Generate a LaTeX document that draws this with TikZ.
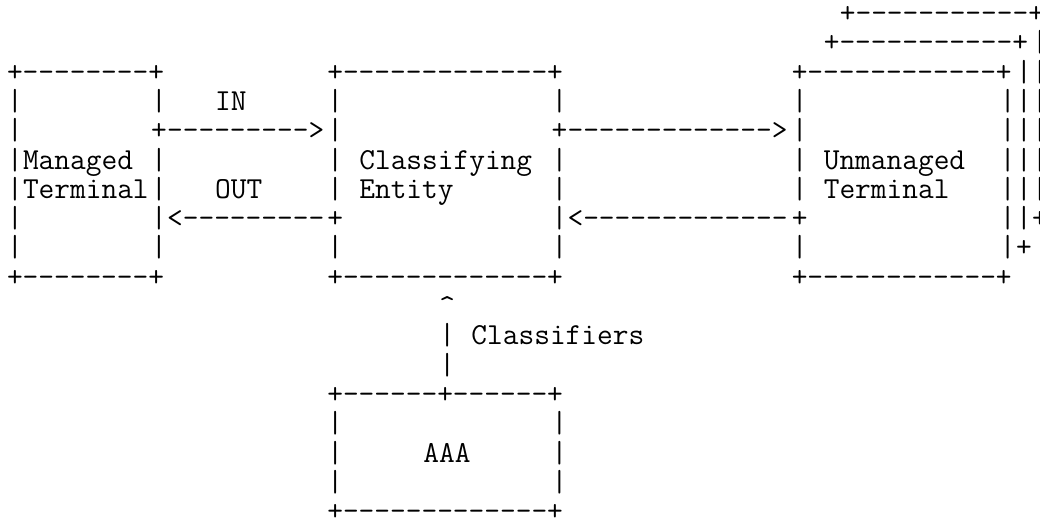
\documentclass[tikz,border=0pt]{standalone}
\usepackage{fontspec}
\usepackage{tikz}

\begin{document}
\begin{tikzpicture}[x=8.008pt,y=-14.65pt,
  ascii/.style={font=\ttfamily\fontsize{15.25pt}{14.65pt}\selectfont,anchor=base west,inner sep=0pt,outer sep=0pt}]
  \useasboundingbox (0pt,0pt) rectangle (520pt,-260pt);
  \begin{scope}[shift={(3.5pt,-11.25pt)}]
  % copies stacked behind the unmanaged terminal
  \node[ascii] (back2) at (52,0) {+-----------+};
  \node[ascii] (back1) at (51,1) {+-----------+};
  \foreach \c/\rfrom/\rto in {63/2/8,64/1/7}
    \foreach \r in {\rfrom,...,\rto}
      \node[ascii] (k\c-\r) at (\c,\r) {\ifnum\r=\rto +\else|\fi};
  \foreach \r/\n in {2/top,9/bot} {
    \node[ascii] (m\n) at (0,\r) {+--------+};
    \node[ascii] (c\n) at (20,\r) {+-------------+};
    \node[ascii] (u\n) at (49,\r) {+------------+};
  }
  % box sides, + where a line leaves the box
  \foreach \c/\j in {0/0,9/4,20/7,34/4,49/7,62/0}
    \foreach \r in {3,...,8}
      \node[ascii] (s\c-\r) at (\c,\r) {\ifnum\r=\j +\else|\fi};
  \node[ascii] (inarrow) at (10,4) {--------->};
  \node[ascii] (outarrow) at (10,7) {<---------};
  \node[ascii] (toarrow) at (35,4) {------------->};
  \node[ascii] (fromarrow) at (35,7) {<-------------};
  \node[ascii] (in) at (13,3) {IN};
  \node[ascii] (out) at (13,6) {OUT};
  \node[ascii] (managed) at (1,5) {Managed};
  \node[ascii] (mterm) at (1,6) {Terminal};
  \node[ascii] (classifying) at (22,5) {Classifying};
  \node[ascii] (entity) at (22,6) {Entity};
  \node[ascii] (unmanaged) at (51,5) {Unmanaged};
  \node[ascii] (uterm) at (51,6) {Terminal};
  % classifiers from AAA
  \node[ascii] (caret) at (27,10) {\textasciicircum};
  \foreach \r in {11,12}
    \node[ascii] (v\r) at (27,\r) {|};
  \node[ascii] (classifiers) at (29,11) {Classifiers};
  \node[ascii] (atop) at (20,13) {+------+------+};
  \foreach \c in {20,34}
    \foreach \r in {14,15,16}
      \node[ascii] (a\c-\r) at (\c,\r) {|};
  \node[ascii] (aaa) at (26,15) {AAA};
  \node[ascii] (abot) at (20,17) {+-------------+};
  \end{scope}
\end{tikzpicture}
\end{document}
